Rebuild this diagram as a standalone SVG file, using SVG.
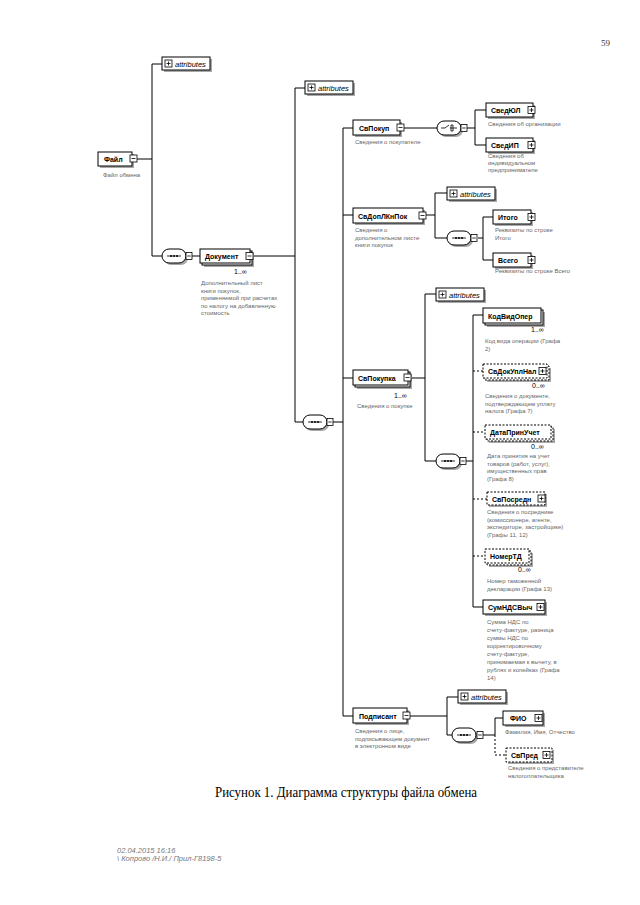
<svg xmlns="http://www.w3.org/2000/svg" xmlns:xlink="http://www.w3.org/1999/xlink" width="640" height="905" viewBox="0 0 640 905">
<style>
.bg{fill:#fff}
.box{fill:#fff;stroke:#000;stroke-width:1}
.dbox{fill:#fff;stroke:#000;stroke-width:1;stroke-dasharray:2 1.5}
.sh{fill:#a8a8a8}
.name{font-family:"Liberation Sans",Arial,sans-serif;font-weight:bold;font-size:7px;fill:#000}
.attr{font-family:"Liberation Sans",Arial,sans-serif;font-style:italic;font-size:7.5px;fill:#000}
.desc{font-family:"Liberation Sans",Arial,sans-serif;font-size:6px;fill:#666}
.occ{font-family:"Liberation Sans",Arial,sans-serif;font-size:7px;fill:#000}
.c{stroke:#000;stroke-width:1;fill:none}
.dc{stroke:#000;stroke-width:1;fill:none;stroke-dasharray:2 2}
.cap{font-family:"Liberation Serif","Times New Roman",serif;font-size:14px;fill:#000}
.foot{font-family:"Liberation Sans",Arial,sans-serif;font-style:italic;font-size:7.5px;fill:#777}
</style>
<defs>
<g id="plus"><rect x="0" y="0" width="7" height="7" fill="#fff" stroke="#000" stroke-width="0.8"/><path d="M1.5 3.5H5.5M3.5 1.5V5.5" stroke="#000" stroke-width="0.8"/></g>
<g id="minus"><rect x="0" y="0" width="7" height="7" fill="#fff" stroke="#000" stroke-width="0.8"/><path d="M1.5 3.5H5.5" stroke="#000" stroke-width="0.8"/></g>
<g id="sq"><rect x="0" y="0" width="6" height="7" fill="#fff" stroke="#000" stroke-width="0.8"/><path d="M1.3 3.5H4.7" stroke="#000" stroke-width="0.8"/></g>
<g id="seq"><rect x="2" y="2" width="24" height="14" rx="7" class="sh"/><rect x="0" y="0" width="24" height="14" rx="7" fill="#fff" stroke="#000" stroke-width="1"/><path d="M5 7H19" stroke="#000" stroke-width="0.8"/><circle cx="9" cy="7" r="1" fill="#000"/><circle cx="12" cy="7" r="1" fill="#000"/><circle cx="15" cy="7" r="1" fill="#000"/></g>
<g id="cho"><rect x="2" y="2" width="24" height="14" rx="7" class="sh"/><rect x="0" y="0" width="24" height="14" rx="7" fill="#fff" stroke="#000" stroke-width="1"/><path d="M4 7H8L12 4M13 7H20M14 4V10M16 4V10M14 4H16M14 10H16" stroke="#000" stroke-width="0.8" fill="none"/></g>
<g id="attrbox"><rect x="2" y="2" width="48" height="13" class="sh"/><rect x="0" y="0" width="48" height="13" class="box"/><use xlink:href="#plus" x="3" y="3"/><text x="13" y="9.5" class="attr">attributes</text></g>
</defs>
<rect x="0" y="0" width="640" height="905" class="bg"/>
<text x="601" y="46" font-family="Liberation Serif,serif" font-size="9" fill="#333">59</text>

<g id="connectors">
<path class="c" d="M137 159H152M152 64V256M152 64H162M152 256H162"/>
<path class="c" d="M192 256H200"/>
<path class="c" d="M253 256H295M295 88V422M295 88H305M295 422H303M333 422H343"/>
<path class="c" d="M343 128V716M343 128H353M343 215H353M343 378H353M343 716H353"/>
<path class="c" d="M404 128H437M467 128H475M475 110V145M475 110H486M475 145H486"/>
<path class="c" d="M426 215H435M435 193V238M435 193H447M435 238H447M478 238H483M483 217V260M483 217H493M483 260H493"/>
<path class="c" d="M412 378H425M425 294V461M425 294H436M425 461H436M466 461H473M473 315V607M473 315H483M473 607H483"/>
<path class="dc" d="M473 371H483M473 432H485M473 499H487M473 556H485"/>
<path class="c" d="M409 716H447M447 697V735M447 697H458M447 735H452M483 735H495M495 718V735M495 718H503"/>
<path class="dc" d="M495 735V755H506"/>
</g>

<g id="n-fail">
<rect x="100" y="154" width="34" height="14" class="sh"/>
<rect x="98" y="152" width="34" height="14" class="box"/>
<text x="104" y="162" class="name">Файл</text>
<use xlink:href="#minus" x="130" y="155"/>
<text x="103" y="177" class="desc">Файл обмена</text>
</g>
<g id="n-attr1"><use xlink:href="#attrbox" x="162" y="57"/></g>
<g id="n-seq1"><use xlink:href="#seq" x="162" y="249"/><use xlink:href="#sq" x="186" y="252.5"/></g>

<g id="n-dokument">
<rect x="204" y="253" width="50" height="14" class="sh"/>
<rect x="202" y="251" width="50" height="14" class="box"/>
<rect x="200" y="249" width="50" height="14" class="box"/>
<text x="205" y="259" class="name">Документ</text>
<use xlink:href="#minus" x="246" y="252.5"/>
<text x="234" y="274" class="occ">1..∞</text>
<text x="201" y="285" class="desc">Дополнительный лист</text>
<text x="201" y="292.5" class="desc">книги покупок,</text>
<text x="201" y="300" class="desc">применяемой при расчетах</text>
<text x="201" y="307.5" class="desc">по налогу на добавленную</text>
<text x="201" y="315" class="desc">стоимость</text>
</g>
<g id="n-attr2"><use xlink:href="#attrbox" x="305" y="81"/></g>
<g id="n-seq2"><use xlink:href="#seq" x="303" y="415"/><use xlink:href="#sq" x="327" y="418.5"/></g>

<g id="n-svpokup">
<rect x="355" y="122" width="47" height="15" class="sh"/>
<rect x="353" y="120" width="47" height="15" class="box"/>
<text x="359" y="130.5" class="name">СвПокуп</text>
<use xlink:href="#minus" x="397" y="124"/>
<text x="355" y="144" class="desc">Сведения о покупателе</text>
</g>
<g id="n-cho1"><use xlink:href="#cho" x="437" y="121"/><use xlink:href="#sq" x="461" y="124.5"/></g>
<g id="n-svedul">
<rect x="488" y="105" width="47" height="14" class="sh"/>
<rect x="486" y="103" width="47" height="14" class="box"/>
<text x="491" y="113" class="name">СведЮЛ</text>
<use xlink:href="#plus" x="528" y="106.5"/>
<text x="488" y="126" class="desc">Сведения об организации</text>
</g>
<g id="n-svedip">
<rect x="488" y="140" width="47" height="14" class="sh"/>
<rect x="486" y="138" width="47" height="14" class="box"/>
<text x="491" y="148" class="name">СведИП</text>
<use xlink:href="#plus" x="528" y="141.5"/>
<text x="488" y="158" class="desc">Сведения об</text>
<text x="488" y="165" class="desc">индивидуальном</text>
<text x="488" y="172" class="desc">предпринимателе</text>
</g>

<g id="n-svdop">
<rect x="355" y="210" width="70" height="15" class="sh"/>
<rect x="353" y="208" width="70" height="15" class="box"/>
<text x="358" y="218.5" class="name">СвДопЛКнПок</text>
<use xlink:href="#minus" x="419" y="212"/>
<text x="355" y="232" class="desc">Сведения о</text>
<text x="355" y="239.5" class="desc">дополнительном листе</text>
<text x="355" y="247" class="desc">книги покупок</text>
</g>
<g id="n-attr3"><use xlink:href="#attrbox" x="447" y="187"/></g>
<g id="n-seq3"><use xlink:href="#seq" x="447" y="231"/><use xlink:href="#sq" x="471" y="234.5"/></g>
<g id="n-itogo">
<rect x="495" y="212" width="38" height="14" class="sh"/>
<rect x="493" y="210" width="38" height="14" class="box"/>
<text x="498" y="220" class="name">Итого</text>
<use xlink:href="#plus" x="528" y="213.5"/>
<text x="495" y="232" class="desc">Реквизиты по строке</text>
<text x="495" y="239.5" class="desc">Итого</text>
</g>
<g id="n-vsego">
<rect x="495" y="255" width="38" height="14" class="sh"/>
<rect x="493" y="253" width="38" height="14" class="box"/>
<text x="498" y="263" class="name">Всего</text>
<use xlink:href="#plus" x="528" y="256.5"/>
<text x="495" y="273" class="desc">Реквизиты по строке Всего</text>
</g>

<g id="n-svpokupka">
<rect x="357" y="374" width="55" height="15" class="sh"/>
<rect x="355" y="372" width="55" height="15" class="box"/>
<rect x="353" y="370" width="55" height="15" class="box"/>
<text x="358" y="380.5" class="name">СвПокупка</text>
<use xlink:href="#minus" x="404" y="374"/>
<text x="394" y="398" class="occ">1..∞</text>
<text x="357" y="408" class="desc">Сведения о покупке</text>
</g>
<g id="n-attr4"><use xlink:href="#attrbox" x="436" y="288"/></g>
<g id="n-seq4"><use xlink:href="#seq" x="436" y="454"/><use xlink:href="#sq" x="460" y="457.5"/></g>

<g id="n-kodvid">
<rect x="487" y="312" width="58" height="15" class="sh"/>
<rect x="485" y="310" width="58" height="15" class="box"/>
<rect x="483" y="308" width="58" height="15" class="box"/>
<text x="488" y="318.5" class="name">КодВидОпер</text>
<text x="531" y="332" class="occ">1..∞</text>
<text x="485" y="343" class="desc">Код вида операции (Графа</text>
<text x="485" y="351" class="desc">2)</text>
</g>
<g id="n-svdokupl">
<rect x="487" y="368" width="64" height="14" class="sh"/>
<rect x="485" y="366" width="64" height="14" class="dbox"/>
<rect x="483" y="364" width="64" height="14" class="dbox"/>
<text x="488" y="374" class="name">СвДокУплНал</text>
<use xlink:href="#plus" x="539" y="367.5"/>
<text x="532" y="388" class="occ">0..∞</text>
<text x="485" y="398" class="desc">Сведения о документе,</text>
<text x="485" y="405.5" class="desc">подтверждающем уплату</text>
<text x="485" y="413" class="desc">налога (Графа 7)</text>
</g>
<g id="n-data">
<rect x="489" y="429" width="66" height="14" class="sh"/>
<rect x="487" y="427" width="66" height="14" class="dbox"/>
<rect x="485" y="425" width="66" height="14" class="dbox"/>
<text x="490" y="435" class="name">ДатаПринУчет</text>
<text x="531" y="449" class="occ">0..∞</text>
<text x="487" y="458" class="desc">Дата принятия на учет</text>
<text x="487" y="465.5" class="desc">товаров (работ, услуг),</text>
<text x="487" y="473" class="desc">имущественных прав</text>
<text x="487" y="480.5" class="desc">(Графа 8)</text>
</g>
<g id="n-svposr">
<rect x="489" y="494" width="58" height="13" class="sh"/>
<rect x="487" y="492" width="58" height="13" class="dbox"/>
<text x="492" y="501.5" class="name">СвПосредн</text>
<use xlink:href="#plus" x="538" y="495"/>
<text x="487" y="514" class="desc">Сведения о посреднике</text>
<text x="487" y="521.5" class="desc">(комиссионере, агенте,</text>
<text x="487" y="529" class="desc">экспедиторе, застройщике)</text>
<text x="487" y="536.5" class="desc">(Графы 11, 12)</text>
</g>
<g id="n-nomertd">
<rect x="489" y="553" width="44" height="14" class="sh"/>
<rect x="487" y="551" width="44" height="14" class="dbox"/>
<rect x="485" y="549" width="44" height="14" class="dbox"/>
<text x="490" y="559" class="name">НомерТД</text>
<text x="518" y="572" class="occ">0..∞</text>
<text x="487" y="583" class="desc">Номер таможенной</text>
<text x="487" y="590.5" class="desc">декларации (Графа 13)</text>
</g>
<g id="n-sumnds">
<rect x="485" y="602" width="62" height="14" class="sh"/>
<rect x="483" y="600" width="62" height="14" class="box"/>
<text x="488" y="610" class="name">СумНДСВыч</text>
<use xlink:href="#plus" x="537" y="603.5"/>
<text x="487" y="624" class="desc">Сумма НДС по</text>
<text x="487" y="632" class="desc">счету-фактуре, разница</text>
<text x="487" y="640" class="desc">суммы НДС по</text>
<text x="487" y="648" class="desc">корректировочному</text>
<text x="487" y="656" class="desc">счету-фактуре,</text>
<text x="487" y="664" class="desc">принимаемая к вычету, в</text>
<text x="487" y="672" class="desc">рублях и копейках (Графа</text>
<text x="487" y="680" class="desc">14)</text>
</g>

<g id="n-podpisant">
<rect x="355" y="710" width="54" height="15" class="sh"/>
<rect x="353" y="708" width="54" height="15" class="box"/>
<text x="359" y="718.5" class="name">Подписант</text>
<use xlink:href="#minus" x="403" y="712"/>
<text x="355" y="733" class="desc">Сведения о лице,</text>
<text x="355" y="740.5" class="desc">подписывающем документ</text>
<text x="355" y="748" class="desc">в электронном виде</text>
</g>
<g id="n-attr5"><use xlink:href="#attrbox" x="458" y="690"/></g>
<g id="n-seq5"><use xlink:href="#seq" x="452" y="728"/><use xlink:href="#sq" x="477" y="731.5"/></g>
<g id="n-fio">
<rect x="505" y="713" width="40" height="14" class="sh"/>
<rect x="503" y="711" width="40" height="14" class="box"/>
<text x="510" y="721" class="name">ФИО</text>
<use xlink:href="#plus" x="535" y="714.5"/>
<text x="505" y="734" class="desc">Фамилия, Имя, Отчество</text>
</g>
<g id="n-svpred">
<rect x="508" y="750" width="46" height="14" class="sh"/>
<rect x="506" y="748" width="46" height="14" class="dbox"/>
<text x="511" y="758" class="name">СвПред</text>
<use xlink:href="#plus" x="543" y="751.5"/>
<text x="508" y="770" class="desc">Сведения о представителе</text>
<text x="508" y="778" class="desc">налогоплательщика</text>
</g>

<text x="215" y="797" class="cap" textLength="262" lengthAdjust="spacingAndGlyphs">Рисунок 1. Диаграмма структуры файла обмена</text>
<text x="117" y="853" class="foot">02.04.2015 16:16</text>
<text x="117" y="861" class="foot">\ Копрово /Н.И./ Прил-Г8198-5</text>
</svg>
